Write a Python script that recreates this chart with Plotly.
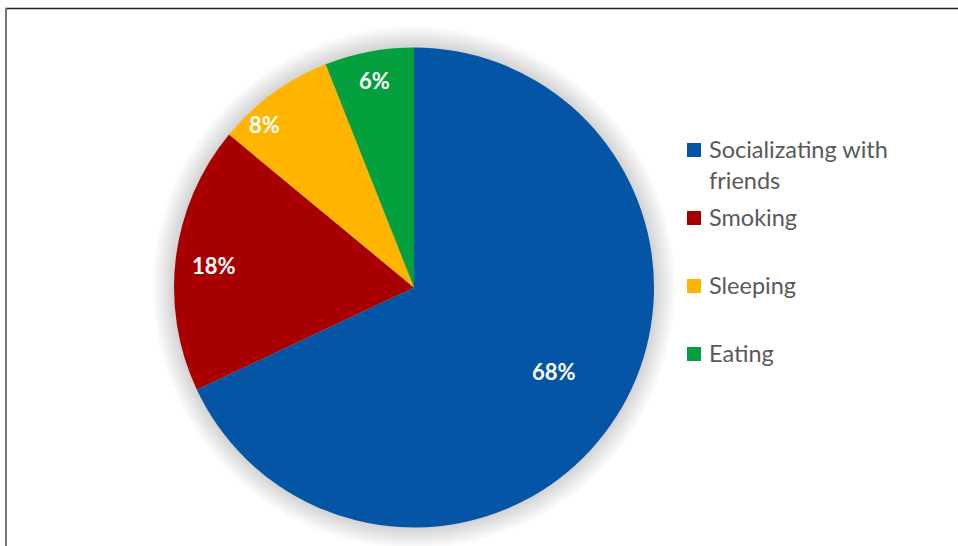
import math
import plotly.graph_objects as go

# Activity shares (percent)
categories = ["Socializating with friends", "Smoking", "Sleeping", "Eating"]
legend_labels = ["Socializating with<br>friends", "Smoking", "Sleeping", "Eating"]
shares = [68, 18, 8, 6]
colors = ["#0455A6", "#A80000", "#FFB400", "#04A03E"]

W, H = 958, 546
CX, CY, R = 414, 287.5, 240   # pie centre / radius in pixels

# where each percentage label sits: fraction of radius, angular nudge (deg)
label_radius = [0.68, 0.84, 0.92, 0.88]
label_nudge = [-1.5, -1.0, -6.5, 0.0]


def px(x):
    return x / W


def py(y):
    return 1 - y / H


fig = go.Figure()

fig.add_trace(go.Pie(
    labels=categories,
    values=shares,
    sort=False,
    direction="clockwise",
    rotation=0,
    marker=dict(colors=colors, line=dict(width=0)),
    textinfo="none",
    domain=dict(x=[px(CX - R), px(CX + R)], y=[py(CY + R), py(CY - R)]),
    showlegend=False,
    hoverinfo="label+percent",
))

shapes = []
annotations = []

# soft drop shadow around the pie
for k in range(1, 23):
    rr = R + k
    shapes.append(dict(
        type="circle", xref="paper", yref="paper", layer="below",
        x0=px(CX - rr), x1=px(CX + rr), y0=py(CY + rr), y1=py(CY - rr),
        fillcolor="rgba(0,0,0,0.008)", line=dict(width=0),
    ))

# percentage labels at each slice's mid-angle (clockwise from 12 o'clock)
total = sum(shares)
start = 0.0
for val, frac, nudge in zip(shares, label_radius, label_nudge):
    span = 360.0 * val / total
    mid = math.radians(start + span / 2 + nudge)
    start += span
    lx = CX + frac * R * math.sin(mid)
    ly = CY - frac * R * math.cos(mid)
    annotations.append(dict(
        xref="paper", yref="paper", x=px(lx), y=py(ly),
        xanchor="center", yanchor="middle", showarrow=False,
        text=f"{val}%",
        font=dict(family="Lato", size=22, color="white", weight="bold"),
    ))

# frame lines (top and left)
shapes.append(dict(type="line", xref="paper", yref="paper",
                   x0=px(5), x1=1, y0=py(8.5), y1=py(8.5),
                   line=dict(color="#222222", width=1.5)))
shapes.append(dict(type="line", xref="paper", yref="paper",
                   x0=px(6), x1=px(6), y0=py(8), y1=0,
                   line=dict(color="#777777", width=2)))

# legend: colour squares and labels
legend_y = [150, 218, 286, 354]
for lab, col, yy in zip(legend_labels, colors, legend_y):
    shapes.append(dict(type="rect", xref="paper", yref="paper",
                       x0=px(687), x1=px(701), y0=py(yy + 7), y1=py(yy - 7),
                       fillcolor=col, line=dict(width=0)))
    annotations.append(dict(
        xref="paper", yref="paper", x=px(707), y=py(yy - 17),
        xanchor="left", yanchor="top", align="left",
        text=lab, showarrow=False,
        font=dict(family="Lato", size=23.5, color="#595959"),
    ))

fig.update_layout(
    width=W, height=H,
    margin=dict(l=0, r=0, t=0, b=0, pad=0),
    paper_bgcolor="white",
    plot_bgcolor="white",
    shapes=shapes,
    annotations=annotations,
)

fig.write_html("out.html")
